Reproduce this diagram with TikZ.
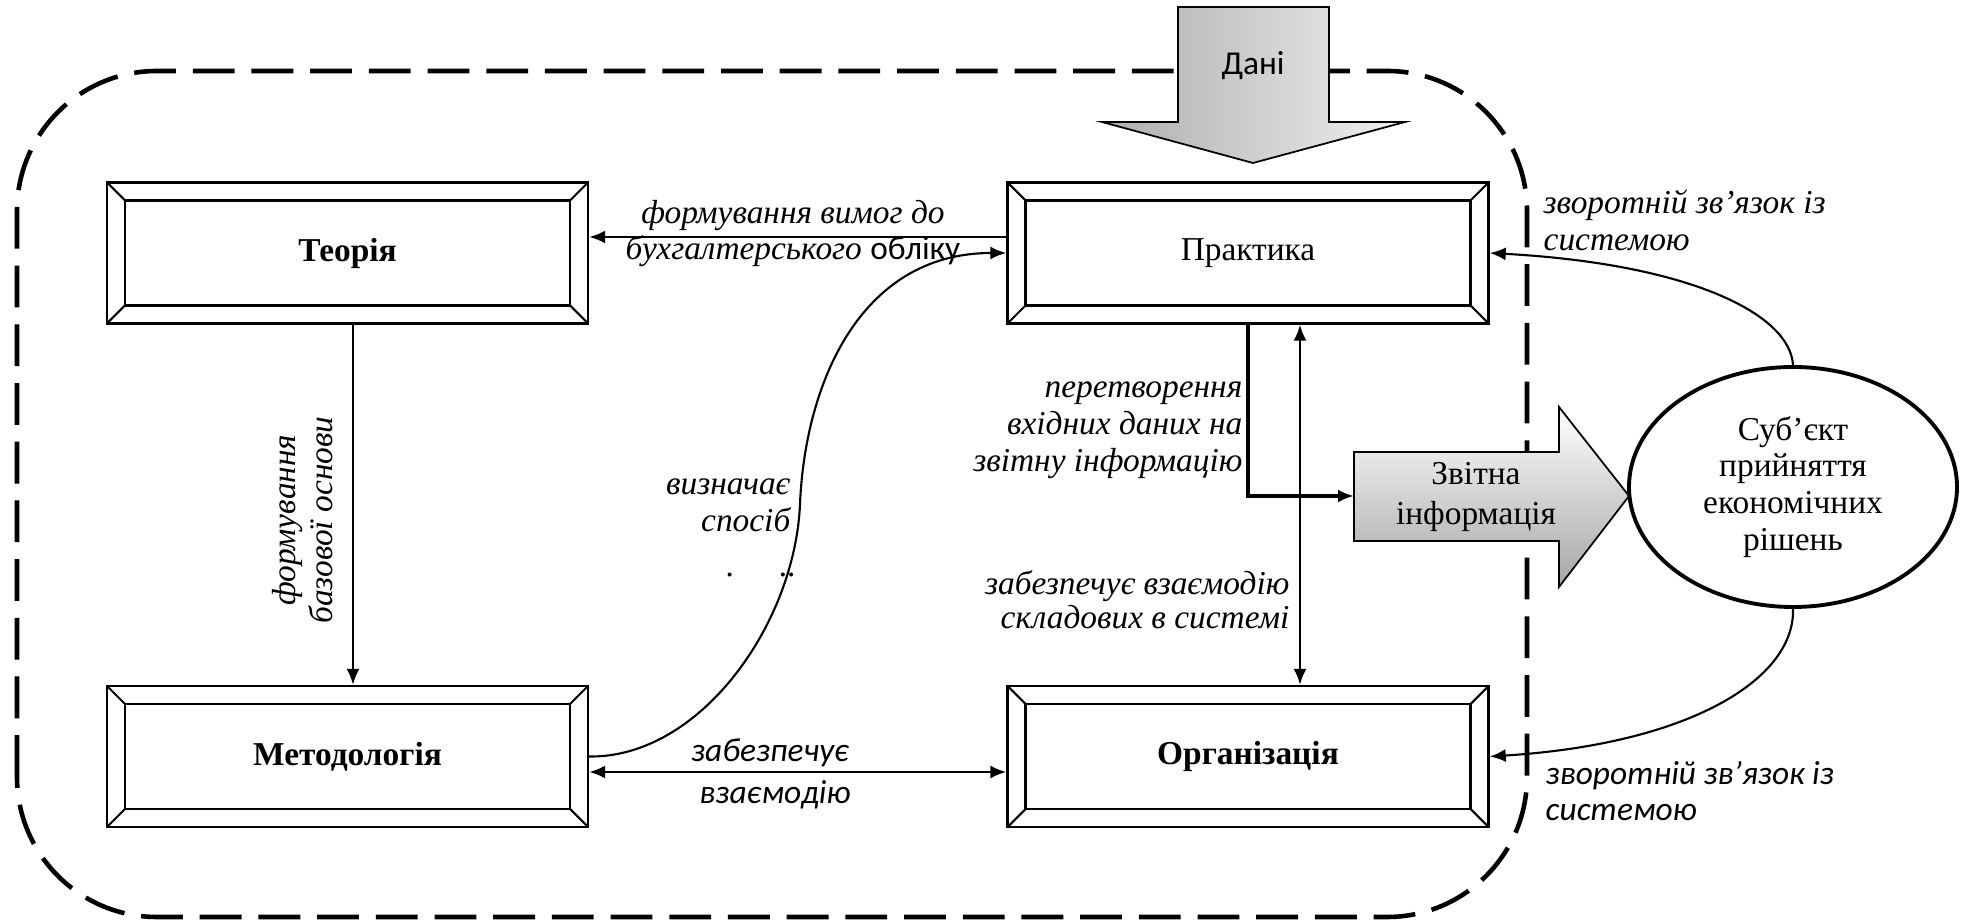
\documentclass[tikz,border=0pt]{standalone}
\usepackage{fontspec}
\setmainfont{Liberation Serif}
\newfontfamily\calibri{Carlito}
\usetikzlibrary{arrows.meta, shapes.geometric}

\begin{document}
\begin{tikzpicture}

        % Setup the styles for the blocks and labels
        \tikzset{every node/.style={font=\fontsize{9.5}{10.5}\selectfont},
                 box style/.style={draw,
                                   line width=0.7pt,
                                   minimum width=4.81cm,
                                   minimum height=1.41cm,
                                   path picture={
                                     \draw[line width=0.7pt] ([shift={(1.8mm,1.8mm)}]path picture bounding box.south west) rectangle ([shift={(-1.8mm,-1.8mm)}]path picture bounding box.north east);
                                     \draw[line width=0.6pt] (path picture bounding box.south west) -- ++(1.8mm,1.8mm)
                                       (path picture bounding box.south east) -- ++(-1.8mm,1.8mm)
                                       (path picture bounding box.north west) -- ++(1.8mm,-1.8mm)
                                       (path picture bounding box.north east) -- ++(-1.8mm,-1.8mm);}},
                 note style/.style={font=\fontsize{9.5}{10.5}\selectfont\itshape, inner sep=0pt},
                 sans note/.style={font=\calibri\fontsize{9.5}{10.5}\selectfont\itshape, inner sep=0pt},
                 link/.style={line width=0.6pt, >={Latex[length=1.6mm, width=1.3mm]}}}

        \useasboundingbox (0,0) rectangle (19.66,9.24);

        % System border
        \draw[line width=1.3pt, dash pattern=on 11.9pt off 4.8pt, rounded corners=1.4cm] (0.17,0.07) rectangle (15.27,8.53);

        % Big arrows
        \shade[draw, line width=0.5pt, left color=black!32, right color=black!6]
          (11.78,9.17) -- (13.29,9.17) -- (13.29,8.02) -- (14.05,8.02) -- (12.53,7.61) -- (11.02,8.02) -- (11.78,8.02) -- cycle;
        \node (dani) at (12.53,8.58) {\calibri Дані};

        \shade[draw, line width=0.5pt, top color=white, bottom color=black!35]
          (13.54,4.72) -- (15.59,4.72) -- (15.59,5.17) -- (16.29,4.28) -- (15.59,3.37) -- (15.59,3.83) -- (13.54,3.83) -- cycle;
        \node[align=center, font=\fontsize{9.5}{11.3}\selectfont] (zvitna) at (14.76,4.27) {Звітна\\інформація};
        \coordinate (zvitna in) at (13.54,4.28);

        % Draw the blocks
        \node[box style] (teoria)   at (3.475,6.71)  {\textbf{Теорія}};
        \node[box style] (metod)    at (3.475,1.675) {\textbf{Методологія}};
        \node[box style] (praktyka) at (12.48,6.71)  {Практика};
        \node[box style] (orhan)    at (12.48,1.675) {\textbf{Організація}};

        \node[ellipse, draw, line width=1.1pt, minimum width=3.28cm, minimum height=2.40cm,
              inner sep=0pt, align=center] (subject) at (17.93,4.37) {Суб’єкт\\прийняття\\економічних\\рішень};

        % Connect the blocks
        \draw[link, ->] ([yshift=1.6mm]praktyka.west) -- ([yshift=1.6mm]teoria.east);
        \draw[link, ->] (metod.east) .. controls (7.0,1.66) and (7.95,3.0) .. (8.0,4.2)
                                     .. controls (8.05,5.4) and (8.6,6.71) .. (praktyka.west);
        \draw[link, ->] ([xshift=0.55mm]teoria.south) -- ([xshift=0.55mm]metod.north);
        \draw[link, <->] ([yshift=-1.55mm]metod.east) -- ([yshift=-1.55mm]orhan.west);
        \draw[link, <->] ([xshift=5.2mm]praktyka.south) -- ([xshift=5.2mm]orhan.north);
        \draw[link, ->, line width=0.9pt] (praktyka.south) |- (zvitna in);
        \draw[link, ->] (subject.north) .. controls (17.9,6.1) and (16.9,6.6) .. (praktyka.east);
        \draw[link, ->] (subject.south) .. controls (17.95,2.45) and (16.9,1.8) .. (orhan.east);

        % Labels
        \node[note style, align=center] (vymohy) at (7.93,6.905) {формування вимог до\\бухгалтерського {\calibri\upshape обліку}};
        \node[note style, rotate=90, align=center] (osnova) at (3.03,4.04) {формування\\базової основи};
        \node[note style, align=right, anchor=east] (sposib) at (7.91,4.19) {визначає\\спосіб};
        \node[note style, anchor=base east] (krapky) at (7.97,3.47) {.\hspace{4.5mm}..};
        \node[note style, align=right, anchor=east] (peretv) at (12.43,4.94) {перетворення\\вхідних даних на\\звітну інформацію};
        \node[note style, align=right, anchor=east, font=\fontsize{9.5}{9.7}\selectfont\itshape] (vzaiemod) at (12.90,3.24) {забезпечує взаємодію\\складових в системі};
        \node[sans note] (zabezp) at (7.70,1.71) {забезпечує};
        \node[sans note] (vzaiem) at (7.75,1.29) {взаємодію};
        \node[note style, align=left, anchor=west] (zvorot) at (15.43,7.035) {зворотній зв’язок із\\системою};
        \node[sans note, align=left, anchor=west] (zvorotn) at (15.45,1.33) {зворотній зв’язок із\\системою};

\end{tikzpicture}
\end{document}
